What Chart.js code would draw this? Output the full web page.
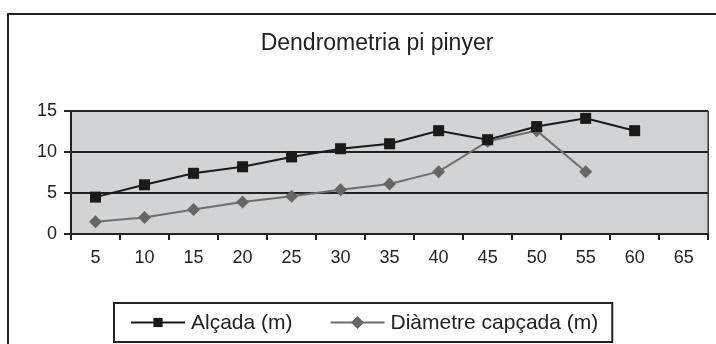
<!DOCTYPE html>
<html>
<head>
<meta charset="utf-8">
<script src="https://cdn.jsdelivr.net/npm/chart.js@4.4.1/dist/chart.umd.min.js"></script>
<style>
  html, body { margin: 0; padding: 0; background: #fff; }
  #c { display: block; }
</style>
</head>
<body>
<canvas id="c" width="716" height="344"></canvas>
<script>
// Age classes (years) and the measured tree dimensions
const ages = ['5', '10', '15', '20', '25', '30', '35', '40', '45', '50', '55', '60', '65'];
const alcada = [4.5, 6.0, 7.4, 8.2, 9.4, 10.4, 11.0, 12.6, 11.5, 13.1, 14.1, 12.6, null];
const diametre = [1.5, 2.0, 3.0, 3.9, 4.6, 5.4, 6.1, 7.6, 11.3, 12.6, 7.6, null, null];
const yTicks = [0, 5, 10, 15];
const chartTitle = 'Dendrometria pi pinyer';

const INK = '#222222';
const FONT = '"Liberation Sans", Arial, Helvetica, sans-serif';

// Outer frame geometry: the frame runs off the right and bottom of the canvas
const FRAME = { left: 8, top: 14, width: 738 };

// Grey plot background, outer frame, title and a boxed legend with line+marker samples
const framePlugin = {
  id: 'frame',
  beforeDraw(chart) {
    const { ctx, chartArea: a } = chart;
    ctx.save();
    ctx.fillStyle = '#d2d3d5';
    ctx.fillRect(a.left, a.top, a.right - a.left, a.bottom - a.top);
    ctx.restore();
  },
  afterDraw(chart) {
    const { ctx, chartArea: a } = chart;
    ctx.save();
    // right edge of the plot area
    ctx.strokeStyle = '#333';
    ctx.lineWidth = 1.5;
    ctx.beginPath();
    ctx.moveTo(a.right, a.top);
    ctx.lineTo(a.right, a.bottom);
    ctx.stroke();

    // outer frame
    ctx.strokeStyle = INK;
    ctx.lineWidth = 2;
    ctx.strokeRect(FRAME.left, FRAME.top, FRAME.width, 600);

    // title, centred in the frame
    ctx.fillStyle = INK;
    ctx.font = '23px ' + FONT;
    ctx.textAlign = 'center';
    ctx.textBaseline = 'middle';
    ctx.fillText(chartTitle, FRAME.left + FRAME.width / 2, 44);

    // legend
    ctx.font = '21px ' + FONT;
    const dsList = chart.data.datasets;
    const padL = 17, sample = 54, gapText = 6, gapItem = 38, padR = 14;
    const widths = dsList.map(ds => ctx.measureText(ds.label).width);
    let total = padL + padR + gapItem * (dsList.length - 1);
    widths.forEach(w => { total += sample + gapText + w; });
    const boxH = 39;
    const left = Math.round(chart.width / 2 + 5 - total / 2);
    const top = chart.height - 41;
    ctx.strokeStyle = INK;
    ctx.lineWidth = 2;
    ctx.strokeRect(left, top, total, boxH);
    const cy = top + boxH / 2;
    let x = left + padL;
    dsList.forEach((ds, i) => {
      ctx.strokeStyle = ds.borderColor;
      ctx.lineWidth = 2;
      ctx.beginPath();
      ctx.moveTo(x, cy);
      ctx.lineTo(x + sample, cy);
      ctx.stroke();
      const mx = x + sample / 2;
      ctx.fillStyle = ds.pointBackgroundColor;
      ctx.beginPath();
      if (ds.pointStyle === 'rect') {
        const s = 4.6;
        ctx.rect(mx - s, cy - s, 2 * s, 2 * s);
      } else {
        const r = 6.5;
        ctx.moveTo(mx - r, cy);
        ctx.lineTo(mx, cy - r);
        ctx.lineTo(mx + r, cy);
        ctx.lineTo(mx, cy + r);
        ctx.closePath();
      }
      ctx.fill();
      ctx.fillStyle = INK;
      ctx.textBaseline = 'middle';
      ctx.textAlign = 'left';
      ctx.fillText(ds.label, x + sample + gapText, cy + 1);
      x += sample + gapText + widths[i] + gapItem;
    });
    ctx.restore();
  }
};

new Chart(document.getElementById('c'), {
  type: 'line',
  data: {
    labels: ages,
    datasets: [
      {
        label: 'Alçada (m)',
        data: alcada,
        borderColor: '#1a1a1a',
        backgroundColor: '#1a1a1a',
        pointBackgroundColor: '#1a1a1a',
        pointBorderColor: '#1a1a1a',
        borderWidth: 2,
        pointStyle: 'rect',
        pointRadius: 7.8,
        pointBorderWidth: 0,
        tension: 0,
        clip: false
      },
      {
        label: 'Diàmetre capçada (m)',
        data: diametre,
        borderColor: '#6e6e6e',
        backgroundColor: '#6e6e6e',
        pointBackgroundColor: '#666666',
        pointBorderColor: '#666666',
        borderWidth: 2,
        pointStyle: 'rectRot',
        pointRadius: 6.5,
        pointBorderWidth: 0,
        tension: 0,
        clip: false
      }
    ]
  },
  options: {
    responsive: false,
    animation: false,
    events: [],
    layout: { padding: { left: 0, right: 5, top: 111, bottom: 70 } },
    plugins: {
      legend: { display: false },
      tooltip: { enabled: false },
      title: { display: false }
    },
    scales: {
      x: {
        type: 'category',
        offset: true,
        grid: {
          offset: true,
          drawOnChartArea: false,
          drawTicks: true,
          tickLength: 6,
          color: INK,
          lineWidth: 2
        },
        border: { display: true, color: INK, width: 2 },
        ticks: {
          color: INK,
          padding: 7,
          maxRotation: 0,
          autoSkip: false,
          font: { family: FONT, size: 18 }
        },
        afterFit(scale) { scale.height = 40; }
      },
      y: {
        min: yTicks[0],
        max: yTicks[yTicks.length - 1],
        afterBuildTicks(scale) { scale.ticks = yTicks.map(v => ({ value: v })); },
        grid: {
          color: INK,
          lineWidth: 2,
          drawTicks: true,
          tickLength: 7
        },
        border: { display: true, color: INK, width: 2 },
        ticks: {
          color: INK,
          padding: 7,
          font: { family: FONT, size: 18 }
        },
        afterFit(scale) { scale.width = 71; }
      }
    }
  },
  plugins: [framePlugin]
});
</script>
</body>
</html>
